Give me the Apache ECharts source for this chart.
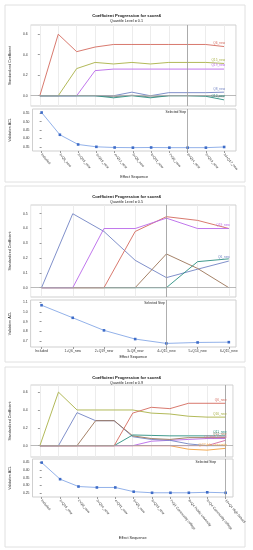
<!DOCTYPE html>
<html><head><meta charset="utf-8">
<script src="https://cdn.jsdelivr.net/npm/echarts@6/dist/echarts.min.js"></script>
<style>html,body{margin:0;padding:0;background:#fff}#c{width:253px;height:550px}</style>
</head><body><div id="c"></div>
<script>
// ---------- DATA ----------
const titleText = 'Coefficient Progression for score4';
const quantiles = ['Quantile Level = 0.1', 'Quantile Level = 0.5', 'Quantile Level = 0.9'];

// Panel 1 (quantile 0.1)
const p1Cats = ['Included','1+Q6_new','2+Q15_new','3+Q19_new','4+Q12_new','5+Q8_new','6+Q11_new','7+Q9_new','8+Q14_new','9+Q13_new','10+Q17_new'];
const p1Names = ['Q6_new','Q15_new','Q19_new','Q8_new','Q12_new','Q11_new'];
const p1Q6  = [0, 0.60, 0.43, 0.475, 0.50, 0.50, 0.50, 0.50, 0.50, 0.50, 0.48];
const p1Q15 = [0, 0, 0.265, 0.325, 0.31, 0.325, 0.31, 0.325, 0.325, 0.325, 0.315];
const p1Q19 = [0, 0, 0, 0.245, 0.26, 0.26, 0.26, 0.26, 0.26, 0.26, 0.26];
const p1Q8  = [0, 0, 0, 0, 0, 0.035, 0, 0.03, 0.03, 0.03, 0.035];
const p1Q12 = [0, 0, 0, 0, -0.02, 0, -0.02, 0, 0, -0.005, -0.04];
const p1Q11 = [0, 0, 0, 0, -0.01, 0.005, -0.012, 0, 0, 0, -0.01];
const p1Acl = [0.555, 0.422, 0.364, 0.35, 0.346, 0.345, 0.346, 0.345, 0.345, 0.345, 0.349];
const p1Selected = 8;

// Panel 2 (quantile 0.5)
const p2Cats = ['Included','1+Q6_new','2+Q19_new','3+Q8_new','4+Q15_new','5+Q14_new','6-Q15_new'];
const p2Names = ['Q6_new','Q19_new','Q8_new','Q15_new','Q14_new'];
const p2Q6  = [0, 0.50, 0.38, 0.185, 0.068, 0.125, 0.18];
const p2Q19 = [0, 0, 0.40, 0.40, 0.47, 0.40, 0.40];
const p2Q8  = [0, 0, 0, 0.38, 0.48, 0.455, 0.40];
const p2Q15 = [0, 0, 0, 0, 0.228, 0.13, 0];
const p2Q14 = [0, 0, 0, 0, 0, 0.176, 0.195];
const p2Acl = [1.07, 0.94, 0.81, 0.72, 0.675, 0.685, 0.688];
const p2Selected = 4;

// Panel 3 (quantile 0.9)
const p3Cats = ['Included','1+Q16_new','2+Q8_new','3+Q14_new','4+Q11_new','5+Q6_new','6+Q15_new','7+Q1 Community college','8+Q4 Public university','9+Q4 Community college','10+Q4 High School'];
const p3Names = ['Q16_new','Q8_new','Q14_new','Q11_new','Q6_new','Q15_new','Q4 High School','Q4 Public university'];
const p3Q16 = [0, 0.60, 0.40, 0.40, 0.40, 0.40, 0.365, 0.355, 0.33, 0.32, 0.32];
const p3Q8  = [0, 0, 0.37, 0.28, 0.28, 0.10, 0.07, 0.06, 0.02, 0.0, 0.0];
const p3Q14 = [0, 0, 0, 0.28, 0.28, 0.11, 0.08, 0.07, 0.09, 0.09, 0.09];
const p3Q11 = [0, 0, 0, 0, 0, 0.12, 0.115, 0.11, 0.11, 0.11, 0.11];
const p3Q6  = [0, 0, 0, 0, 0, 0.365, 0.43, 0.415, 0.475, 0.475, 0.475];
const p3Q15 = [0, 0, 0, 0, 0, 0, 0.05, 0.06, 0.07, 0.08, 0.08];
const p3QHS = [0, 0, 0, 0, 0, 0, 0, 0, 0, 0, 0.06];
const p3QPU = [0, 0, 0, 0, 0, 0, 0, 0, -0.04, -0.05, -0.03];
const p3Acl = [0.446, 0.34, 0.293, 0.287, 0.287, 0.26, 0.253, 0.253, 0.253, 0.256, 0.253];
const p3Selected = 10;

// ---------- STYLE / LAYOUT ----------
const FONT = 'Liberation Sans';
const C = {red:'#d46a5e', olive:'#a9b146', purple:'#b968ea', blue:'#7283c4', teal:'#2a8f80', brown:'#9b7457', gray:'#8a8a8a', orange:'#f0a040', pink:'#d46aa0'};

const panels = [
  { frame:[5,5,240,177], titleTop:9, cats:p1Cats, sel:p1Selected,
    left:30, width:206, top1:25, h1:81, top2:109, h2:42, xMin:-0.5, xMax:10.65,
    y1:[-0.1,0.69], y2:[0.325,0.576], y2dec:2, rotate:-50, nameY:175,
    series:[[p1Q6,C.red],[p1Q15,C.olive],[p1Q19,C.purple],[p1Q8,C.blue],[p1Q11,C.gray],[p1Q12,C.teal]],
    names:[p1Names[0],p1Names[1],p1Names[2],p1Names[3],null,p1Names[4]],
    acl:p1Acl, selOffset:0 },
  { frame:[5,186,240,176], titleTop:190, cats:p2Cats, sel:p2Selected,
    left:27, width:209, top1:205, h1:92, top2:300, h2:47, xMin:-0.35, xMax:6.23,
    y1:[-0.063,0.559], y2:[0.638,1.124], y2dec:1, rotate:0, nameY:355,
    series:[[p2Q6,C.blue],[p2Q15,C.brown],[p2Q14,C.teal],[p2Q8,C.red],[p2Q19,C.purple]],
    names:[p2Names[0],null,null,null,p2Names[1]],
    acl:p2Acl, selOffset:0 },
  { frame:[5,367,240,180], titleTop:371, cats:p3Cats, sel:p3Selected,
    left:30, width:203, top1:385, h1:72, top2:459, h2:38, xMin:-0.5, xMax:10.4,
    y1:[-0.127,0.68], y2:[0.226,0.469], y2dec:2, rotate:-50, nameY:536,
    series:[[p3QPU,C.orange],[p3QHS,C.pink],[p3Q15,C.purple],[p3Q8,C.blue],[p3Q14,C.brown],[p3Q11,C.teal],[p3Q16,C.olive],[p3Q6,C.red]],
    names:[p3Names[7],p3Names[6],null,null,p3Names[2],p3Names[3],p3Names[0],p3Names[4]],
    acl:p3Acl, selOffset:-8 }
];

const option = {
  backgroundColor:'#fff', animation:false,
  textStyle:{fontFamily:FONT},
  title:[], grid:[], xAxis:[], yAxis:[], series:[], graphic:[]
};

const tinyLabel = {fontFamily:FONT, fontSize:3.4, color:'#333'};

panels.forEach((p, k) => {
  const g1 = k*2, g2 = k*2+1;
  option.graphic.push({type:'rect', shape:{x:p.frame[0], y:p.frame[1], width:p.frame[2], height:p.frame[3]},
    style:{fill:'#fff', stroke:'#e0e0e0', lineWidth:1}, z:-10, silent:true});
  option.title.push({text:titleText, subtext:quantiles[k], left:'center', top:p.titleTop, itemGap:1,
    textStyle:{fontFamily:FONT, fontSize:4.2, fontWeight:'bold', color:'#111'},
    subtextStyle:{fontFamily:FONT, fontSize:3.7, color:'#222'}});
  option.grid.push({left:p.left, width:p.width, top:p.top1, height:p.h1, show:true, borderColor:'#cfcfcf', borderWidth:1, containLabel:false});
  option.grid.push({left:p.left, width:p.width, top:p.top2, height:p.h2, show:true, borderColor:'#cfcfcf', borderWidth:1, containLabel:false});
  const xBase = {type:'value', min:p.xMin, max:p.xMax, splitNumber:p.cats.length,
    axisLine:{show:false}, axisTick:{show:false}};
  option.xAxis.push(Object.assign({}, xBase, {gridIndex:g1, axisLabel:{show:false},
    splitLine:{show:true, lineStyle:{color:'#ececec', width:1}}}));
  option.xAxis.push(Object.assign({}, xBase, {gridIndex:g2,
    splitLine:{show:false},
    axisTick:{show:true, length:2, lineStyle:{color:'#999'}},
    axisLabel:Object.assign({}, tinyLabel, {show:true, margin:3, rotate:p.rotate, showMinLabel:false, showMaxLabel:false,
      formatter:v => (Math.abs(v-Math.round(v))<1e-6 && p.cats[Math.round(v)]!==undefined) ? p.cats[Math.round(v)] : ''}),
    name:'Effect Sequence', nameLocation:'middle',
    nameGap: p.nameY - (p.top2 + p.h2),
    nameTextStyle:{fontFamily:FONT, fontSize:3.8, color:'#222'}}));
  option.yAxis.push({type:'value', gridIndex:g1, min:p.y1[0], max:p.y1[1], splitNumber:(k===1?6:4),
    axisLine:{show:false}, splitLine:{show:false},
    axisTick:{show:true, length:2, lineStyle:{color:'#999'}},
    axisLabel:Object.assign({}, tinyLabel, {margin:3, showMinLabel:false, showMaxLabel:false, formatter:v=>v.toFixed(1)}),
    name:'Standardized Coefficient', nameLocation:'middle', nameGap:(k===1?15:16),
    nameTextStyle:{fontFamily:FONT, fontSize:3.6, color:'#222'}});
  option.yAxis.push({type:'value', gridIndex:g2, min:p.y2[0], max:p.y2[1], splitNumber:5,
    axisLine:{show:false}, splitLine:{show:false},
    axisTick:{show:true, length:2, lineStyle:{color:'#999'}},
    axisLabel:Object.assign({}, tinyLabel, {margin:3, showMinLabel:false, showMaxLabel:false, formatter:v=>v.toFixed(p.y2dec)}),
    name:'Validation ACL', nameLocation:'middle', nameGap:(k===1?15:16),
    nameTextStyle:{fontFamily:FONT, fontSize:3.6, color:'#222'}});

  // coefficient lines
  p.series.forEach(([vals, col], j) => {
    const s = {type:'line', xAxisIndex:g1, yAxisIndex:g1, symbol:'none', silent:true,
      data: vals.map((v,i)=>[i,v]), lineStyle:{color:col, width:0.9}, itemStyle:{color:col}, z:3};
    const nm = p.names[j];
    if (nm) {
      s.markPoint = {symbol:'circle', symbolSize:0, silent:true, animation:false,
        data:[{coord:[vals.length-1, vals[vals.length-1]],
          label:{show:true, position:'left', distance:0, offset:[1,-3.5], formatter:nm,
            fontFamily:FONT, fontSize:3.2, color:col}}]};
    }
    if (j===0) {
      s.markLine = {symbol:'none', silent:true, animation:false, label:{show:false},
        data:[{yAxis:0, lineStyle:{color:'#a8a8a8', width:0.8, type:'solid'}},
              {xAxis:p.sel, lineStyle:{color:'#9a9a9a', width:0.8, type:'solid'}}]};
    }
    option.series.push(s);
  });
  // ACL line
  option.series.push({type:'line', xAxisIndex:g2, yAxisIndex:g2, silent:true,
    data:p.acl.map((v,i)=>[i,v]), symbol:'rect', symbolSize:2.6,
    lineStyle:{color:'#86a8e6', width:0.9}, itemStyle:{color:'#3e6cc8'},
    markLine:{symbol:'none', silent:true, animation:false, label:{show:false},
      data:[{xAxis:p.sel, lineStyle:{color:'#9a9a9a', width:0.8, type:'solid'}}]},
    markPoint:{symbol:'circle', symbolSize:0, silent:true, animation:false,
      data:[{coord:[p.sel, p.y2[1]], label:{show:true, position:'left', distance:0, offset:[-1.5+p.selOffset,3.5],
        formatter:'Selected Step', fontFamily:FONT, fontSize:3.3, color:'#222'}}]}
  });
});

const chart = echarts.init(document.getElementById('c'), null, {renderer:'canvas'});
chart.setOption(option);
</script></body></html>
